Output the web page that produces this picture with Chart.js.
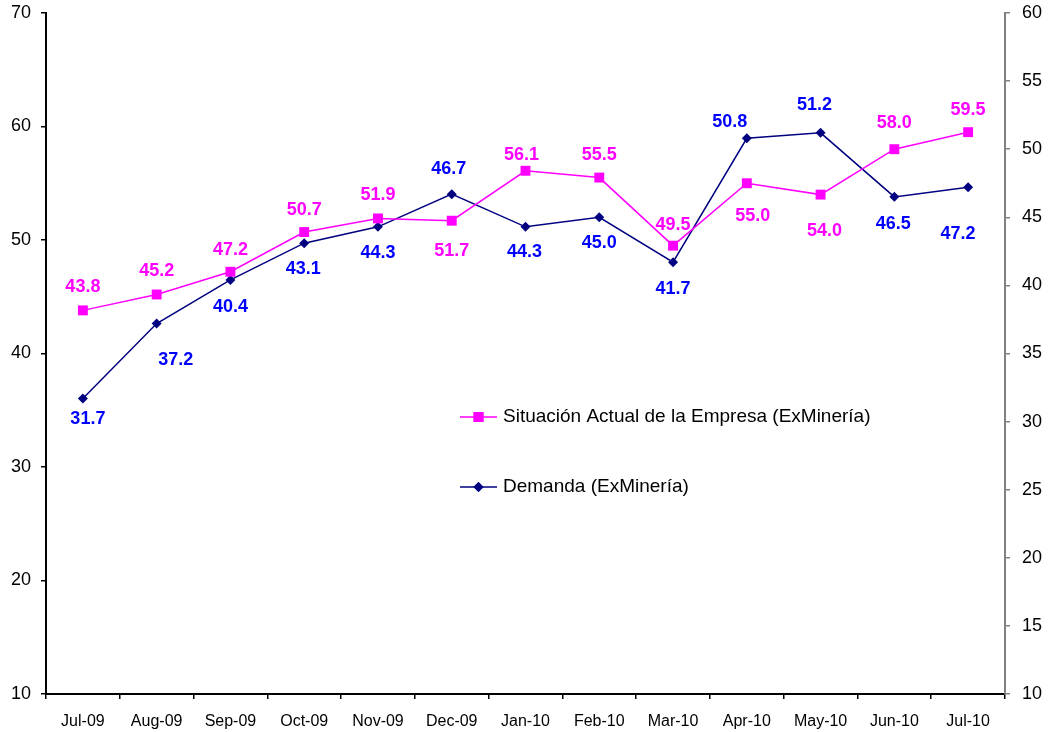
<!DOCTYPE html>
<html>
<head>
<meta charset="utf-8">
<script src="https://cdn.jsdelivr.net/npm/chart.js@4.4.1/dist/chart.umd.min.js"></script>
<style>
  html, body { margin: 0; padding: 0; background: #fff; }
  #wrap { width: 1049px; height: 732px; }
</style>
</head>
<body>
<div id="wrap"><canvas id="myChart" width="1049" height="732"></canvas></div>
<script>
// datos
const months = ['Jul-09', 'Aug-09', 'Sep-09', 'Oct-09', 'Nov-09', 'Dec-09', 'Jan-10',
  'Feb-10', 'Mar-10', 'Apr-10', 'May-10', 'Jun-10', 'Jul-10'];
const situacion = [43.8, 45.2, 47.2, 50.7, 51.9, 51.7, 56.1, 55.5, 49.5, 55.0, 54.0, 58.0, 59.5];
const demanda = [31.7, 37.2, 40.4, 43.1, 44.3, 46.7, 44.3, 45.0, 41.7, 50.8, 51.2, 46.5, 47.2];
const leftTicks = [10, 20, 30, 40, 50, 60, 70];
const rightTicks = [10, 15, 20, 25, 30, 35, 40, 45, 50, 55, 60];

// desplazamiento de las etiquetas (px)
const sitLabelDx = [0, 0, 0, 0, 0, 0, -4, 0, 0, 6, 4, 0, 0];
const sitLabelDy = [-23, -23, -22, -22, -23, 30, -16, -23, -21, 33, 36, -26, -22];
const demLabelDx = [5, 19, 0, -1, 0, -3, -1, 0, 0, -17, -6, -1, -10];
const demLabelDy = [21, 36, 27, 26, 26, -25, 25, 26, 27, -16, -28, 27, 47];

const FONT = '"Liberation Sans", Arial, sans-serif';

const dataLabels = {
  id: 'dataLabels',
  afterDatasetsDraw(chart) {
    const ctx = chart.ctx;
    ctx.save();
    ctx.font = 'bold 18px ' + FONT;
    ctx.textAlign = 'center';
    ctx.textBaseline = 'middle';
    chart.data.datasets.forEach((ds, i) => {
      const meta = chart.getDatasetMeta(i);
      ctx.fillStyle = ds.labelColor;
      meta.data.forEach((pt, j) => {
        ctx.fillText(ds.data[j].toFixed(1), pt.x + ds.labelDx[j], pt.y + ds.labelDy[j]);
      });
    });
    ctx.restore();
  }
};

const innerLegend = {
  id: 'innerLegend',
  afterDraw(chart) {
    const ctx = chart.ctx;
    const x0 = 460, x1 = 497, rows = [417, 487];
    ctx.save();
    chart.data.datasets.forEach((ds, i) => {
      const y = rows[i];
      ctx.strokeStyle = ds.borderColor;
      ctx.lineWidth = ds.borderWidth;
      ctx.beginPath();
      ctx.moveTo(x0, y);
      ctx.lineTo(x1, y);
      ctx.stroke();
      ctx.fillStyle = ds.pointBackgroundColor;
      Chart.helpers.drawPoint(ctx, { pointStyle: ds.pointStyle, radius: ds.pointRadius, rotation: 0, borderWidth: 0 }, (x0 + x1) / 2, y);
      ctx.fill();
      ctx.fillStyle = '#000';
      ctx.font = '19px ' + FONT;
      ctx.textAlign = 'left';
      ctx.textBaseline = 'middle';
      ctx.fillText(ds.label, x1 + 6, y);
    });
    ctx.restore();
  }
};

function noPad(s) {
  s.paddingTop = 0;
  s.paddingBottom = 0;
  s.paddingLeft = 0;
  s.paddingRight = 0;
}

const ctx = document.getElementById('myChart').getContext('2d');

new Chart(ctx, {
  type: 'line',
  data: {
    labels: months,
    datasets: [{
      label: 'Situación Actual de la Empresa (ExMinería)',
      data: situacion,
      yAxisID: 'yLeft',
      borderColor: '#ff00ff',
      backgroundColor: '#ff00ff',
      pointBackgroundColor: '#ff00ff',
      pointBorderColor: '#ff00ff',
      borderWidth: 1.5,
      pointStyle: 'rect',
      pointRadius: 7,
      pointBorderWidth: 0,
      tension: 0,
      labelColor: '#ff00ff',
      labelDx: sitLabelDx,
      labelDy: sitLabelDy
    }, {
      label: 'Demanda (ExMinería)',
      data: demanda,
      yAxisID: 'yRight',
      borderColor: '#000080',
      backgroundColor: '#000080',
      pointBackgroundColor: '#000080',
      pointBorderColor: '#000080',
      borderWidth: 1.5,
      pointStyle: 'rectRot',
      pointRadius: 5,
      pointBorderWidth: 0,
      tension: 0,
      labelColor: '#0000ff',
      labelDx: demLabelDx,
      labelDy: demLabelDy
    }]
  },
  options: {
    responsive: false,
    animation: false,
    layout: { padding: { top: 13, left: 0, right: 0, bottom: 0 } },
    plugins: {
      legend: { display: false },
      tooltip: { enabled: false }
    },
    scales: {
      x: {
        offset: true,
        grid: { offset: true, drawOnChartArea: false, drawTicks: true, tickLength: 5, color: '#000', lineWidth: 1.5 },
        border: { color: '#000', width: 2 },
        ticks: { color: '#000', font: { family: FONT, size: 16 }, padding: 13, maxRotation: 0, autoSkip: false },
        afterFit(s) { s.height = 38; noPad(s); }
      },
      yLeft: {
        position: 'left',
        min: 10, max: 70,
        afterBuildTicks(s) { s.ticks = leftTicks.map(v => ({ value: v })); },
        grid: { drawOnChartArea: false, tickLength: 5, color: '#000', lineWidth: 1.5 },
        border: { color: '#000', width: 2 },
        ticks: { color: '#000', font: { family: FONT, size: 18 }, padding: 10 },
        afterFit(s) { s.width = 46; noPad(s); }
      },
      yRight: {
        position: 'right',
        min: 10, max: 60,
        afterBuildTicks(s) { s.ticks = rightTicks.map(v => ({ value: v })); },
        grid: { drawOnChartArea: false, tickLength: 5, color: '#808080', lineWidth: 1.5 },
        border: { color: '#808080', width: 2 },
        ticks: { color: '#000', font: { family: FONT, size: 18 }, padding: 12 },
        afterFit(s) { s.width = 44; noPad(s); }
      }
    }
  },
  plugins: [dataLabels, innerLegend]
});
</script>
</body>
</html>
